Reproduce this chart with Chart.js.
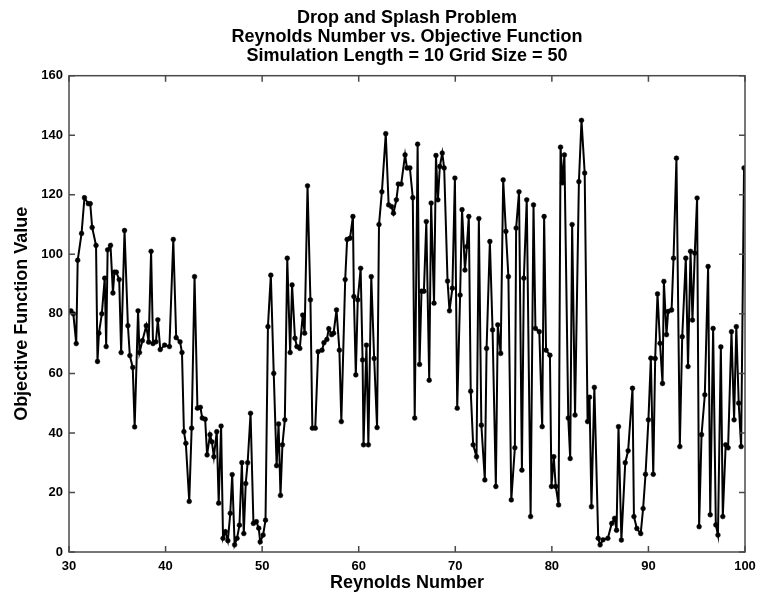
<!DOCTYPE html>
<html>
<head>
<meta charset="utf-8">
<script src="https://cdn.jsdelivr.net/npm/chart.js@4.4.1/dist/chart.umd.min.js"></script>
<style>
  body { margin: 0; background: #fff; }
  #wrap { width: 757px; height: 596px; }
</style>
</head>
<body>
<div id="wrap"><canvas id="myChart" width="757" height="596"></canvas></div>
<script>
// values
const reynolds = [
  30.2, 30.45, 30.75, 30.9, 31.3, 31.6, 32.0, 32.2, 32.4, 32.8,
  32.95, 33.1, 33.4, 33.7, 33.85, 34.0, 34.3, 34.55, 34.7, 34.9,
  35.2, 35.4, 35.75, 36.1, 36.3, 36.6, 36.8, 37.15, 37.3, 37.6,
  38.0, 38.25, 38.5, 38.7, 39.0, 39.2, 39.45, 39.9, 40.4, 40.8,
  41.1, 41.5, 41.7, 41.9, 42.1, 42.45, 42.7, 43.0, 43.3, 43.6,
  43.8, 44.1, 44.3, 44.6, 44.8, 45.0, 45.3, 45.5, 45.75, 45.95,
  46.2, 46.45, 46.7, 46.9, 47.15, 47.4, 47.65, 47.9, 48.1, 48.3,
  48.5, 48.8, 49.1, 49.4, 49.65, 49.8, 50.1, 50.35, 50.6, 50.9,
  51.2, 51.5, 51.7, 51.9, 52.1, 52.35, 52.6, 52.9, 53.1, 53.4,
  53.6, 53.9, 54.2, 54.4, 54.7, 55.0, 55.2, 55.5, 55.8, 56.2,
  56.4, 56.7, 56.9, 57.2, 57.4, 57.7, 58.0, 58.2, 58.6, 58.8,
  59.1, 59.4, 59.5, 59.7, 59.9, 60.2, 60.4, 60.5, 60.8, 61.0,
  61.3, 61.6, 61.9, 62.1, 62.4, 62.8, 63.1, 63.4, 63.6, 63.9,
  64.1, 64.4, 64.8, 65.0, 65.3, 65.6, 65.8, 66.1, 66.3, 66.5,
  66.75, 67.0, 67.3, 67.5, 67.8, 68.0, 68.2, 68.4, 68.65, 68.85,
  69.2, 69.4, 69.7, 69.96, 70.2, 70.5, 70.7, 71.0, 71.2, 71.4,
  71.6, 71.85, 72.2, 72.44, 72.7, 73.06, 73.24, 73.58, 73.86, 74.2,
  74.4, 74.7, 74.96, 75.24, 75.5, 75.8, 76.17, 76.3, 76.6, 76.9,
  77.1, 77.4, 77.8, 78.1, 78.3, 78.7, 79.0, 79.2, 79.4, 79.8,
  79.96, 80.2, 80.4, 80.7, 80.9, 81.1, 81.3, 81.7, 81.9, 82.1,
  82.4, 82.8, 83.07, 83.4, 83.7, 83.9, 84.1, 84.4, 84.8, 85.0,
  85.3, 85.8, 86.2, 86.5, 86.7, 86.9, 87.2, 87.6, 87.9, 88.35,
  88.5, 88.8, 89.2, 89.45, 89.7, 90.0, 90.25, 90.5, 90.7, 90.94,
  91.2, 91.46, 91.6, 91.87, 92.04, 92.4, 92.6, 92.9, 93.25, 93.5,
  93.87, 94.1, 94.36, 94.56, 94.8, 95.04, 95.25, 95.5, 95.84, 96.18,
  96.4, 96.7, 96.98, 97.2, 97.5, 97.7, 98.0, 98.25, 98.6, 98.87,
  99.1, 99.35, 99.6, 99.9
];

const objective = [
  81, 80, 70, 98, 107, 119, 117, 117, 109, 103,
  64, 73.5, 80, 92, 69, 101.5, 103, 87, 94, 94,
  91.5, 67, 108, 76, 66, 62, 42, 81, 67, 71,
  76, 70.5, 101, 70, 70.6, 78, 68, 69.5, 69, 105,
  72, 70.6, 67, 40.4, 36.5, 17, 41.6, 92.5, 48.3, 48.6,
  45, 44.6, 32.6, 39.4, 37, 32, 40.4, 16.4, 42.3, 4.6,
  6.8, 3.8, 13, 26, 2.4, 4.6, 9, 30, 6.2, 23,
  30, 46.6, 9.6, 10.2, 8, 3.4, 5.7, 10.7, 75.7, 93,
  60, 29, 43, 19, 36, 44.4, 98.7, 67, 89.7, 71.8,
  69, 68.4, 79.6, 73.5, 123, 84.7, 41.6, 41.6, 67.3, 67.8,
  70.3, 71.4, 75, 73, 73.5, 81.3, 67.8, 43.8, 91.5, 105,
  105.4, 112.7, 85.8, 59.5, 84.7, 95.3, 64.5, 36, 69.5, 36,
  92.5, 65, 41.8, 110, 121, 140.5, 116.6, 116, 113.8, 118.3,
  123.6, 123.6, 133.4, 129, 129, 119, 45, 137, 63, 87.6,
  87.6, 111, 57.7, 117.2, 83.6, 133.2, 118.3, 129.5, 134, 129,
  91, 81, 88.6, 125.6, 48.3, 86.3, 115, 94.7, 102.6, 112.7,
  54, 36, 32, 112, 42.6, 24.2, 68.4, 104.3, 74.6, 22,
  76.3, 66.7, 125, 107.7, 92.5, 17.5, 35, 108.8, 121, 27.5,
  92, 118.3, 11.9, 116.6, 75.1, 74, 42.1, 112.7, 67.8, 66.1,
  22, 32, 22, 15.8, 136, 124, 133.4, 45, 31.4, 110,
  46, 124.4, 145, 127.3, 43.8, 52, 15.2, 55.3, 4.6, 2.4,
  4.1, 4.6, 9.6, 11.3, 7.3, 42.1, 4, 30, 34, 55,
  11.9, 7.9, 6.2, 14.6, 26.1, 44.4, 65.1, 26.1, 65, 86.7,
  70.1, 56.6, 90.9, 73, 80.8, 81.3, 98.7, 132.3, 35.4, 72.3,
  98.7, 62.3, 101, 77.9, 100.4, 118.9, 8.5, 39.4, 52.8, 95.9,
  12.5, 75.1, 9.1, 5.7, 68.9, 11.9, 36, 35, 74, 44.4,
  75.7, 50, 35.4, 129
];

const xTicks = [30, 40, 50, 60, 70, 80, 90, 100];
const yTicks = [0, 20, 40, 60, 80, 100, 120, 140, 160];

const titleLines = [
  'Drop and Splash Problem',
  'Reynolds Number vs. Objective Function',
  'Simulation Length = 10 Grid Size = 50'
];

const fam = "'Liberation Sans', Arial, Helvetica, sans-serif";

// matlab style box with ticks pointing inwards
const boxFrame = {
  id: 'boxFrame',
  afterDraw(chart) {
    const {ctx, chartArea: a, scales: {x, y}} = chart;
    ctx.save();
    ctx.strokeStyle = '#4a4a4a';
    ctx.lineWidth = 1.5;
    ctx.strokeRect(a.left, a.top, a.right - a.left, a.bottom - a.top);
    ctx.beginPath();
    x.ticks.forEach(t => {
      const px = x.getPixelForValue(t.value);
      ctx.moveTo(px, a.bottom); ctx.lineTo(px, a.bottom - 6);
      ctx.moveTo(px, a.top); ctx.lineTo(px, a.top + 6);
    });
    y.ticks.forEach(t => {
      const py = y.getPixelForValue(t.value);
      ctx.moveTo(a.left, py); ctx.lineTo(a.left + 6, py);
      ctx.moveTo(a.right, py); ctx.lineTo(a.right - 6, py);
    });
    ctx.stroke();
    ctx.restore();
  }
};

const points = reynolds.map((r, i) => ({x: r, y: objective[i]}));

new Chart(document.getElementById('myChart'), {
  type: 'scatter',
  data: {
    datasets: [{
      data: points,
      showLine: true,
      borderColor: '#000',
      borderWidth: 2,
      pointRadius: 2.4,
      pointBackgroundColor: '#000',
      pointBorderColor: '#000',
      pointBorderWidth: 0.5,
      tension: 0
    }]
  },
  options: {
    responsive: false,
    animation: false,
    events: [],
    layout: { padding: { left: 0, right: 12, top: 0, bottom: 0 } },
    plugins: {
      legend: { display: false },
      tooltip: { enabled: false },
      title: {
        display: true,
        text: titleLines,
        fullSize: false,
        color: '#000',
        font: { family: fam, size: 18, weight: 'bold', lineHeight: 1.05 },
        padding: { top: 9, bottom: 10 }
      }
    },
    scales: {
      x: {
        type: 'linear',
        min: 30,
        max: 100,
        afterBuildTicks: s => { s.ticks = xTicks.map(v => ({value: v})); },
        afterFit: s => { s.height = 44; s.paddingLeft = 0; s.paddingRight = 0; },
        grid: { display: false, drawTicks: false },
        border: { display: false },
        ticks: {
          color: '#000',
          padding: 7,
          maxRotation: 0,
          autoSkip: false,
          font: { family: fam, size: 13, weight: 'bold' }
        },
        title: {
          display: true,
          text: 'Reynolds Number',
          color: '#000',
          font: { family: fam, size: 18, weight: 'bold', lineHeight: 1 },
          padding: { top: 0, bottom: 4 }
        }
      },
      y: {
        type: 'linear',
        min: 0,
        max: 160,
        afterBuildTicks: s => { s.ticks = yTicks.map(v => ({value: v})); },
        afterFit: s => { s.width = 69; },
        grid: { display: false, drawTicks: false },
        border: { display: false },
        ticks: {
          color: '#000',
          padding: 6,
          autoSkip: false,
          font: { family: fam, size: 13, weight: 'bold' }
        },
        title: {
          display: true,
          text: 'Objective Function Value',
          color: '#000',
          font: { family: fam, size: 18, weight: 'bold', lineHeight: 1 },
          padding: { top: 13, bottom: 0 }
        }
      }
    }
  },
  plugins: [boxFrame]
});
</script>
</body>
</html>
